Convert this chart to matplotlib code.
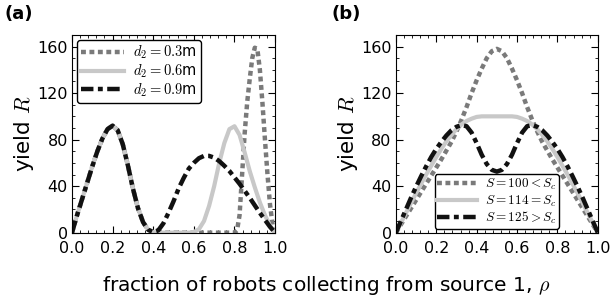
import matplotlib
matplotlib.use('Agg')
import matplotlib.pyplot as plt
from matplotlib.ticker import MultipleLocator

plt.rcParams['mathtext.fontset'] = 'cm'

# panel (a): yield R vs rho for three d2 values
rho_a = [0, 0.025, 0.05, 0.075, 0.1, 0.125, 0.15, 0.175, 0.2, 0.225, 0.25, 0.275, 0.3,
         0.325, 0.35, 0.375, 0.4, 0.425, 0.45, 0.475, 0.5, 0.525, 0.55, 0.575, 0.6,
         0.625, 0.65, 0.675, 0.7, 0.725, 0.75, 0.775, 0.8, 0.825, 0.85, 0.875, 0.9,
         0.925, 0.95, 0.975, 1.0]
R_d09 = [0, 15, 29, 43, 57, 70, 81, 89, 92, 88, 76, 58, 38,
         21, 9, 2.5, 0.5, 2, 8, 17, 27, 38, 47, 55, 60,
         64, 66, 66, 64.5, 61.5, 57.5, 53, 47.5, 42, 36, 30, 23.5,
         17, 11, 5, 0]
R_d06 = [0, 15, 29, 43, 57, 70, 81, 89, 92, 88, 76, 58, 38,
         21, 9, 2.5, 0.5, 0, 0, 0, 0, 0, 0, 0, 0.5,
         3, 10, 23, 40, 60, 77, 89, 91.5, 84, 69, 53, 39,
         26, 15, 6, 0]
rho_a3 = [0, 0.025, 0.05, 0.075, 0.1, 0.125, 0.15, 0.175, 0.2, 0.225, 0.25, 0.275, 0.3,
          0.325, 0.35, 0.375, 0.4, 0.45, 0.5, 0.55, 0.6, 0.65, 0.7, 0.75, 0.8,
          0.8125, 0.825, 0.8375, 0.85, 0.8625, 0.875, 0.8875, 0.9, 0.9125, 0.925,
          0.9375, 0.95, 0.9625, 0.975, 0.9875, 1.0]
R_d03 = [0, 15, 29, 43, 57, 70, 81, 89, 92, 88, 76, 58, 38,
         21, 9, 2.5, 0.5, 0, 0, 0, 0, 0, 0, 0, 0,
         2, 15, 50, 85, 112, 132, 150, 159, 158, 140,
         112, 80, 50, 24, 7, 0]

# panel (b): yield R vs rho for three S values
rho_b = [0, 0.025, 0.05, 0.075, 0.1, 0.125, 0.15, 0.175, 0.2, 0.225, 0.25, 0.275, 0.3,
         0.325, 0.35, 0.375, 0.4, 0.425, 0.45, 0.475, 0.5, 0.525, 0.55, 0.575, 0.6,
         0.625, 0.65, 0.675, 0.7, 0.725, 0.75, 0.775, 0.8, 0.825, 0.85, 0.875, 0.9,
         0.925, 0.95, 0.975, 1.0]
R_S100 = [0, 7, 14, 21, 28, 35, 42, 49, 56, 63, 70.5, 78, 87,
          97, 108, 120, 131, 141, 150, 156, 158, 156, 150, 141, 131,
          120, 108, 97, 87, 78, 70.5, 63, 56, 49, 42, 35, 28,
          21, 14, 7, 0]
R_S114 = [0, 8.5, 17, 25.5, 34, 42, 50, 57.5, 65, 72, 78.5, 84, 89,
          93, 96, 98, 99.5, 100, 100, 100, 100, 100, 100, 100, 99.5,
          98, 96, 93, 89, 84, 78.5, 72, 65, 57.5, 50, 42, 34,
          25.5, 17, 8.5, 0]
R_S125 = [0, 10, 20, 30, 39.5, 48.5, 57, 65, 72, 78, 83.5, 88, 91,
          92.5, 91.5, 86, 77, 67, 59, 54, 52.5, 54, 59, 67, 77,
          86, 91.5, 92.5, 91, 88, 83.5, 78, 72, 65, 57, 48.5, 39.5,
          30, 20, 10, 0]

c_dot = '#7a7a7a'
c_light = '#c8c8c8'
c_dark = '#111111'
ls_dot = (0, (1.1, 0.8))
ls_dd = (0, (2.8, 1.0, 1.1, 1.0))

fig = plt.figure(figsize=(6.1, 3.01), dpi=100)
ax1 = fig.add_axes([0.118, 0.227, 0.333, 0.657])
ax2 = fig.add_axes([0.649, 0.227, 0.331, 0.657])

ax1.plot(rho_a3, R_d03, color=c_dot, lw=3.2, ls=ls_dot, label=r'$d_2=0.3$m')
ax1.plot(rho_a, R_d06, color=c_light, lw=3.0, ls='-', label=r'$d_2=0.6$m')
ax1.plot(rho_a, R_d09, color=c_dark, lw=3.2, ls=ls_dd, label=r'$d_2=0.9$m')

ax2.plot(rho_b, R_S100, color=c_dot, lw=3.2, ls=ls_dot, label=r'$S=100<S_c$')
ax2.plot(rho_b, R_S114, color=c_light, lw=3.0, ls='-', label=r'$S=114=S_c$')
ax2.plot(rho_b, R_S125, color=c_dark, lw=3.2, ls=ls_dd, label=r'$S=125>S_c$')

for ax in (ax1, ax2):
    ax.set_xlim(0, 1)
    ax.set_ylim(0, 170)
    ax.xaxis.set_major_locator(MultipleLocator(0.2))
    ax.xaxis.set_minor_locator(MultipleLocator(0.04))
    ax.yaxis.set_major_locator(MultipleLocator(40))
    ax.yaxis.set_minor_locator(MultipleLocator(10))
    ax.tick_params(which='both', direction='in', top=True, right=True, labelsize=11.5)
    ax.tick_params(which='major', length=5, pad=3)
    ax.tick_params(axis='x', which='major', pad=6)
    ax.tick_params(which='minor', length=2.5)
    ax.set_ylabel(r'yield $R$', fontsize=15.5, labelpad=1)

ax1.legend(loc='upper left', fontsize=10.5, handlelength=3.0, borderpad=0.25,
           labelspacing=0.1, handletextpad=0.6, borderaxespad=0.35,
           fancybox=True, edgecolor='black', framealpha=1)
ax2.legend(loc='lower center', fontsize=9.5, handlelength=3.0, borderpad=0.2,
           labelspacing=0.1, handletextpad=0.6, borderaxespad=0.3,
           fancybox=True, edgecolor='black', framealpha=1)

fig.text(0.008, 0.955, '(a)', fontsize=13, fontweight='bold', va='center')
fig.text(0.543, 0.955, '(b)', fontsize=13, fontweight='bold', va='center')
fig.text(0.535, 0.05, r'fraction of robots collecting from source 1, $\rho$',
         fontsize=14.5, ha='center', va='center')

fig.savefig('out.png', dpi=100)
